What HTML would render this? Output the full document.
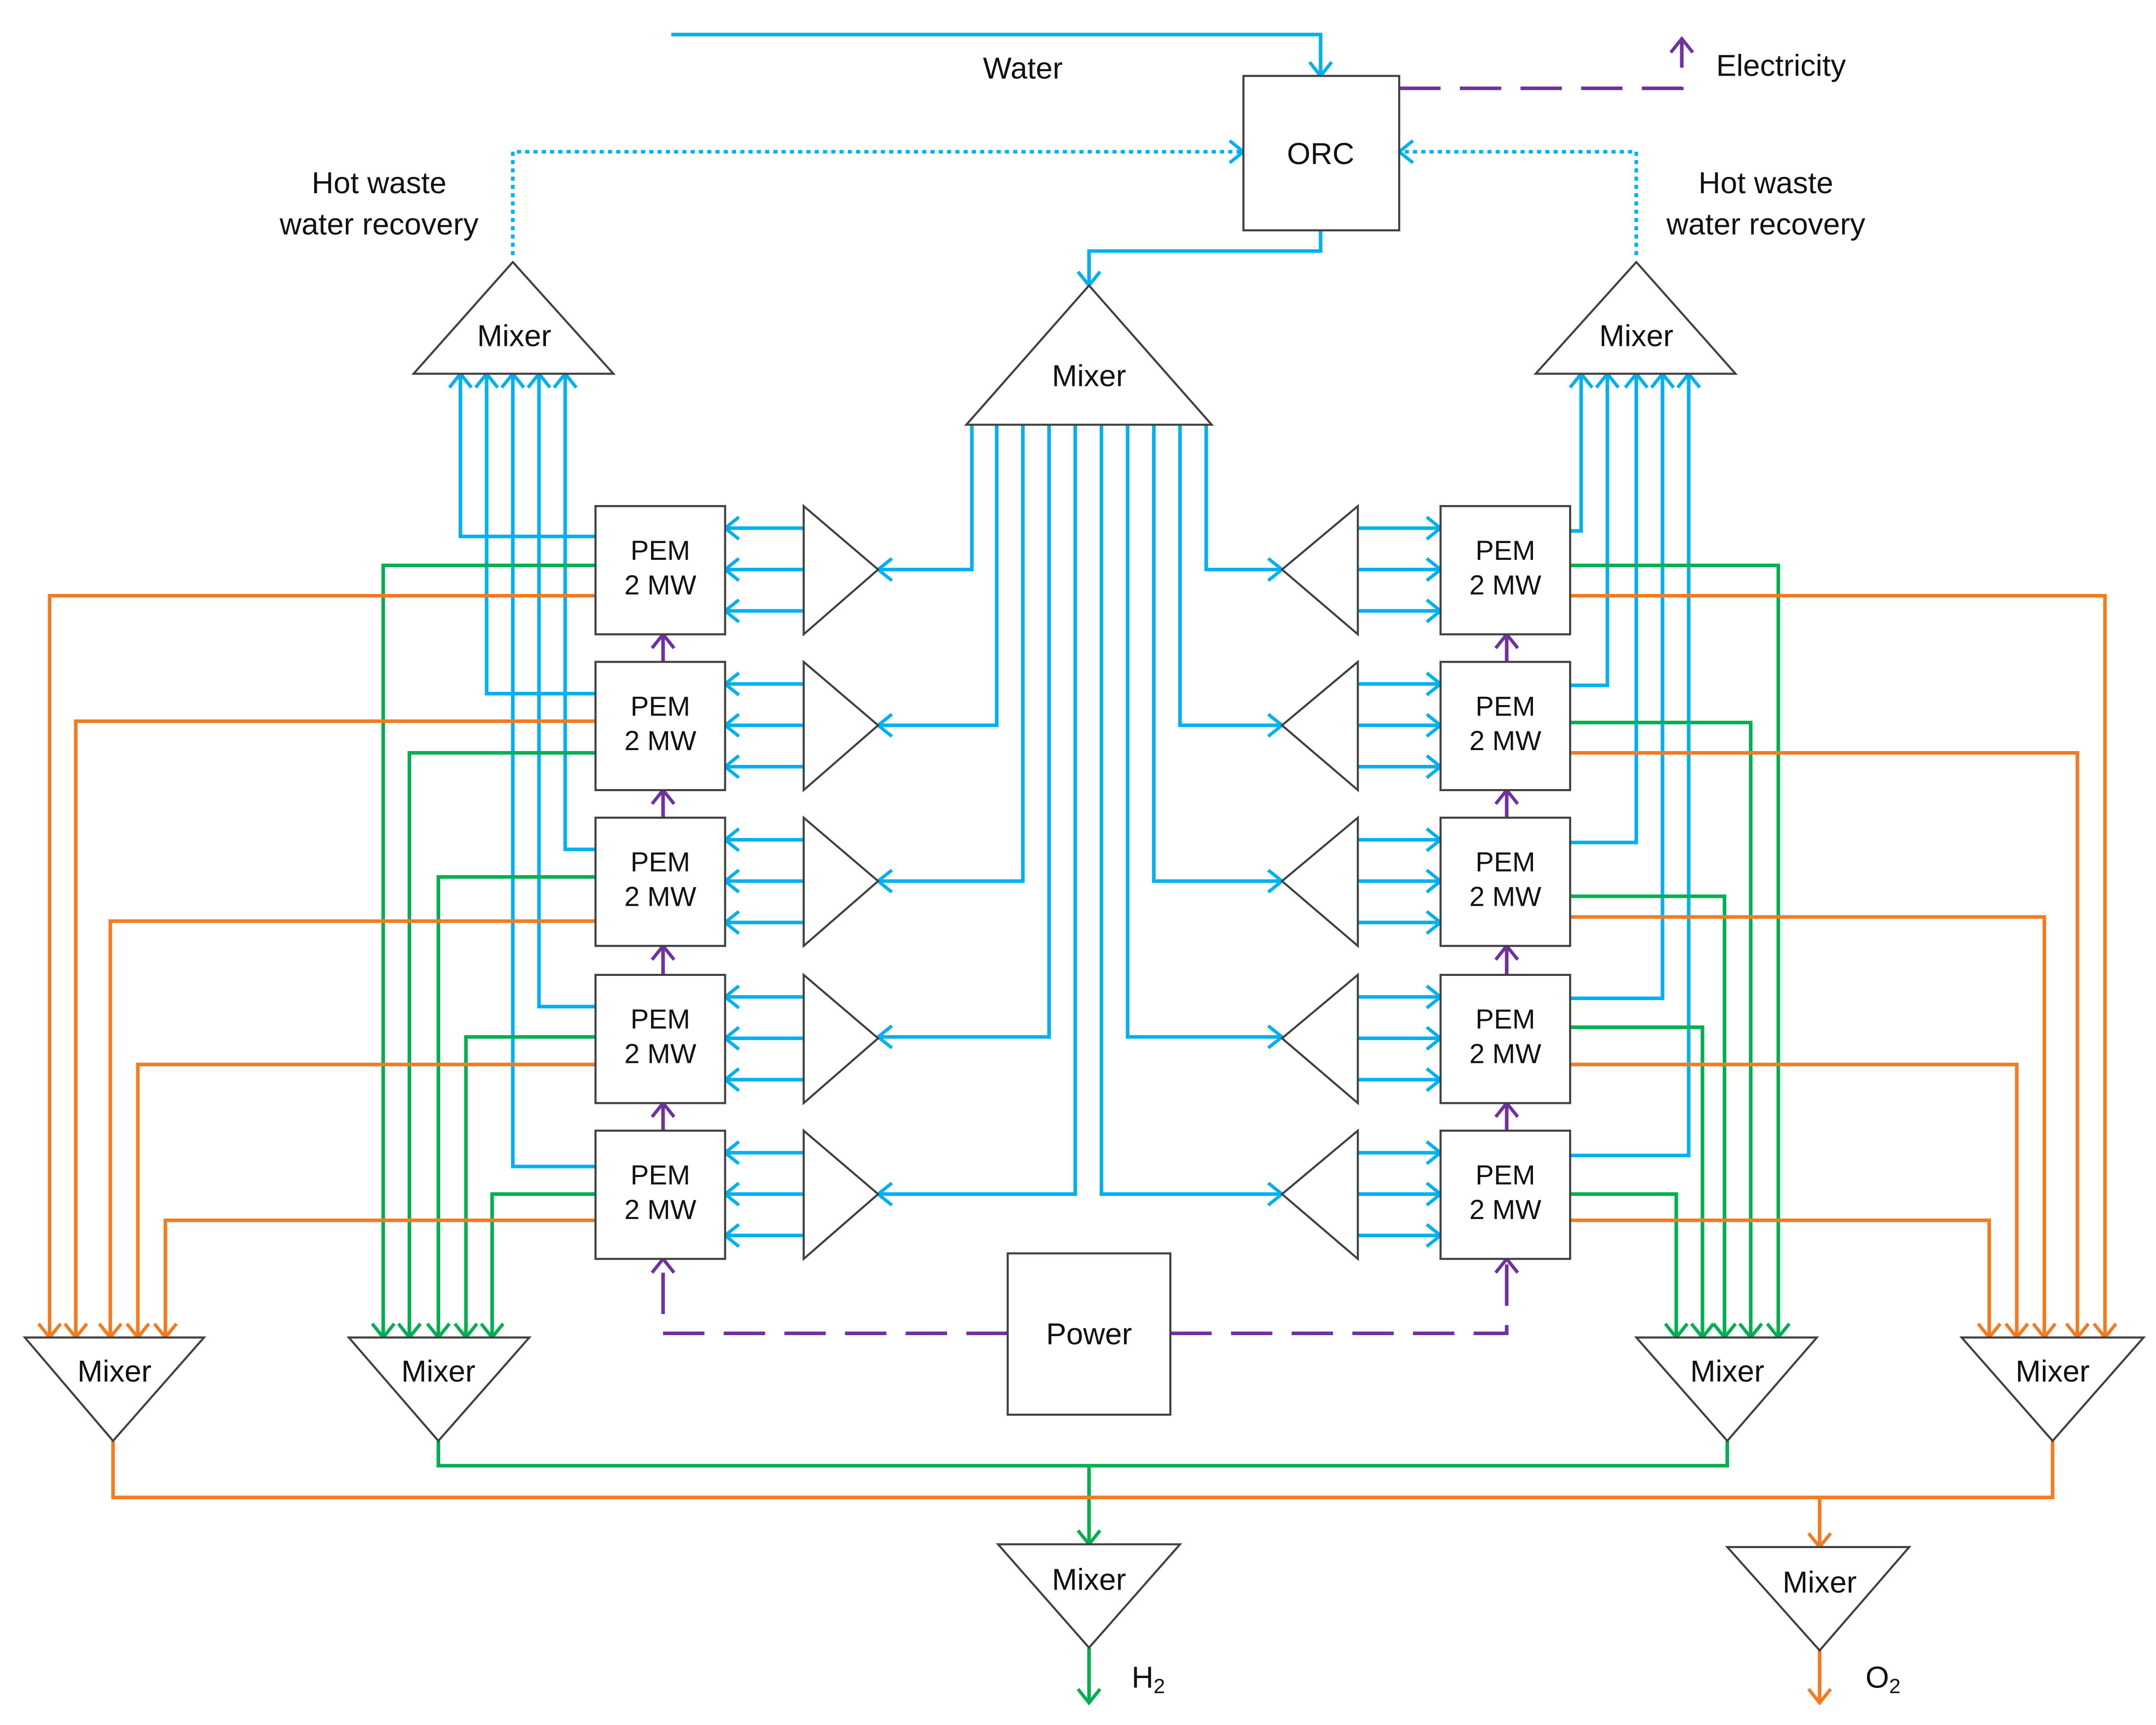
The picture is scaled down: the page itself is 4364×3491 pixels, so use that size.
<!DOCTYPE html>
<html><head><meta charset="utf-8"><style>
html,body{margin:0;padding:0;background:#fff}
svg{display:block}
text{font-family:"Liberation Sans",sans-serif;fill:#111}
</style></head><body>
<svg width="4364" height="3491" viewBox="0 0 1564 1251" xmlns="http://www.w3.org/2000/svg">
<defs>
<marker id="mb" markerUnits="userSpaceOnUse" markerWidth="24" markerHeight="24" viewBox="-12 -12 24 24" refX="0" refY="0" orient="auto"><path d="M-10,-8 L0,0 L-10,8" fill="none" stroke="#00b0f0" stroke-width="2.4"/></marker>
<marker id="mg" markerUnits="userSpaceOnUse" markerWidth="24" markerHeight="24" viewBox="-12 -12 24 24" refX="0" refY="0" orient="auto"><path d="M-10,-8 L0,0 L-10,8" fill="none" stroke="#00b050" stroke-width="2.4"/></marker>
<marker id="mo" markerUnits="userSpaceOnUse" markerWidth="24" markerHeight="24" viewBox="-12 -12 24 24" refX="0" refY="0" orient="auto"><path d="M-10,-8 L0,0 L-10,8" fill="none" stroke="#f47b20" stroke-width="2.4"/></marker>
<marker id="mp" markerUnits="userSpaceOnUse" markerWidth="24" markerHeight="24" viewBox="-12 -12 24 24" refX="0" refY="0" orient="auto"><path d="M-10,-8 L0,0 L-10,8" fill="none" stroke="#7030a0" stroke-width="2.4"/></marker>
</defs>

<g fill="none" stroke-width="2.6" stroke-linejoin="miter">
<g stroke="#00b0f0" marker-end="url(#mb)">
<polyline points="487,25 958,25 958,55"/>
<polyline points="958,167 958,182 790,182 790,207"/>
<polyline points="372,185 372,110 902,110" stroke-dasharray="3,3"/>
<polyline points="1187,185 1187,110 1015,110" stroke-dasharray="3,3"/>
<polyline points="705,308 705,413 637,413"/>
<polyline points="723,308 723,526 637,526"/>
<polyline points="742,308 742,639 637,639"/>
<polyline points="761,308 761,752 637,752"/>
<polyline points="780,308 780,866 637,866"/>
<polyline points="799,308 799,866 930,866"/>
<polyline points="818,308 818,752 930,752"/>
<polyline points="837,308 837,639 930,639"/>
<polyline points="856,308 856,526 930,526"/>
<polyline points="875,308 875,413 930,413"/>
<line x1="583" y1="383" x2="526" y2="383"/><line x1="583" y1="413" x2="526" y2="413"/><line x1="583" y1="443" x2="526" y2="443"/>
<line x1="583" y1="496" x2="526" y2="496"/><line x1="583" y1="526" x2="526" y2="526"/><line x1="583" y1="556" x2="526" y2="556"/>
<line x1="583" y1="609" x2="526" y2="609"/><line x1="583" y1="639" x2="526" y2="639"/><line x1="583" y1="669" x2="526" y2="669"/>
<line x1="583" y1="723" x2="526" y2="723"/><line x1="583" y1="753" x2="526" y2="753"/><line x1="583" y1="783" x2="526" y2="783"/>
<line x1="583" y1="836" x2="526" y2="836"/><line x1="583" y1="866" x2="526" y2="866"/><line x1="583" y1="896" x2="526" y2="896"/>
<line x1="985" y1="383" x2="1045" y2="383"/><line x1="985" y1="413" x2="1045" y2="413"/><line x1="985" y1="443" x2="1045" y2="443"/>
<line x1="985" y1="496" x2="1045" y2="496"/><line x1="985" y1="526" x2="1045" y2="526"/><line x1="985" y1="556" x2="1045" y2="556"/>
<line x1="985" y1="609" x2="1045" y2="609"/><line x1="985" y1="639" x2="1045" y2="639"/><line x1="985" y1="669" x2="1045" y2="669"/>
<line x1="985" y1="723" x2="1045" y2="723"/><line x1="985" y1="753" x2="1045" y2="753"/><line x1="985" y1="783" x2="1045" y2="783"/>
<line x1="985" y1="836" x2="1045" y2="836"/><line x1="985" y1="866" x2="1045" y2="866"/><line x1="985" y1="896" x2="1045" y2="896"/>
<polyline points="432,389 334,389 334,271"/>
<polyline points="432,503 353,503 353,271"/>
<polyline points="432,616 410,616 410,271"/>
<polyline points="432,730 391,730 391,271"/>
<polyline points="432,846 372,846 372,271"/>
<polyline points="1139,385 1147,385 1147,271"/>
<polyline points="1139,497 1166,497 1166,271"/>
<polyline points="1139,611 1187,611 1187,271"/>
<polyline points="1139,724 1206,724 1206,271"/>
<polyline points="1139,838 1225,838 1225,271"/>
</g>
<g stroke="#00b050" marker-end="url(#mg)">
<polyline points="432,410 278,410 278,970"/>
<polyline points="432,546 297,546 297,970"/>
<polyline points="432,636 318,636 318,970"/>
<polyline points="432,752 338,752 338,970"/>
<polyline points="432,866 357,866 357,970"/>
<polyline points="1139,410 1290,410 1290,970"/>
<polyline points="1139,524 1270,524 1270,970"/>
<polyline points="1139,650 1251,650 1251,970"/>
<polyline points="1139,745 1235,745 1235,970"/>
<polyline points="1139,866 1216,866 1216,970"/>
<polyline points="790,1063 790,1120"/>
<polyline points="790,1195 790,1235"/>
</g>
<polyline stroke="#00b050" points="318,1045 318,1063 1253,1063 1253,1045"/>
<g stroke="#f47b20" marker-end="url(#mo)">
<polyline points="432,432 36,432 36,970"/>
<polyline points="432,523 55,523 55,970"/>
<polyline points="432,668 80,668 80,970"/>
<polyline points="432,772 100,772 100,970"/>
<polyline points="432,885 120,885 120,970"/>
<polyline points="1139,432 1527,432 1527,970"/>
<polyline points="1139,546 1507,546 1507,970"/>
<polyline points="1139,665 1483,665 1483,970"/>
<polyline points="1139,772 1463,772 1463,970"/>
<polyline points="1139,885 1443,885 1443,970"/>
<polyline points="1320,1086 1320,1122"/>
<polyline points="1320,1197 1320,1235"/>
</g>
<polyline stroke="#f47b20" points="82,1045 82,1086 1489,1086 1489,1045"/>
<g stroke="#7030a0" marker-end="url(#mp)">
<polyline points="1015,64 1220,64 1220,28" stroke-dasharray="30,14"/>
<polyline points="731,967 481,967 481,913" stroke-dasharray="30,14"/>
<polyline points="849,967 1093,967 1093,913" stroke-dasharray="30,14"/>
<line x1="481" y1="480" x2="481" y2="460"/><line x1="481" y1="593" x2="481" y2="573"/><line x1="481" y1="707" x2="481" y2="686"/><line x1="481" y1="820" x2="481" y2="800"/>
<line x1="1093" y1="480" x2="1093" y2="460"/><line x1="1093" y1="593" x2="1093" y2="573"/><line x1="1093" y1="707" x2="1093" y2="686"/><line x1="1093" y1="820" x2="1093" y2="800"/>
</g>
</g>

<g fill="#fff" stroke="#404040" stroke-width="1.5">
<rect x="902" y="55" width="113" height="112"/>
<rect x="731" y="909" width="118" height="117"/>
<rect x="432" y="367" width="94" height="93"/><rect x="432" y="480" width="94" height="93"/><rect x="432" y="593" width="94" height="93"/><rect x="432" y="707" width="94" height="93"/><rect x="432" y="820" width="94" height="93"/>
<rect x="1045" y="367" width="94" height="93"/><rect x="1045" y="480" width="94" height="93"/><rect x="1045" y="593" width="94" height="93"/><rect x="1045" y="707" width="94" height="93"/><rect x="1045" y="820" width="94" height="93"/>
<polygon points="583,367 637,413 583,460"/><polygon points="583,480 637,526 583,573"/><polygon points="583,593 637,639 583,686"/><polygon points="583,707 637,753 583,800"/><polygon points="583,820 637,866 583,913"/>
<polygon points="985,367 930,413 985,460"/><polygon points="985,480 930,526 985,573"/><polygon points="985,593 930,639 985,686"/><polygon points="985,707 930,753 985,800"/><polygon points="985,820 930,866 985,913"/>
<polygon points="790,207 879,308 701,308"/>
<polygon points="372,190 445,271 300,271"/>
<polygon points="1187,190 1259,271 1114,271"/>
<polygon points="18,970 148,970 82,1045"/>
<polygon points="253,970 384,970 318,1045"/>
<polygon points="1187,970 1318,970 1253,1045"/>
<polygon points="1423,970 1555,970 1489,1045"/>
<polygon points="724,1120 856,1120 790,1195"/>
<polygon points="1253,1122 1385,1122 1320,1197"/>
</g>

<g font-size="22" text-anchor="middle">
<text x="742" y="57">Water</text>
<text x="1292" y="55">Electricity</text>
<text x="958" y="119">ORC</text>
<text x="275" y="140">Hot waste</text><text x="275" y="170">water recovery</text>
<text x="1281" y="140">Hot waste</text><text x="1281" y="170">water recovery</text>
<text x="373" y="251">Mixer</text>
<text x="1187" y="251">Mixer</text>
<text x="790" y="280">Mixer</text>
<text x="790" y="975">Power</text>
<text x="83" y="1002">Mixer</text>
<text x="318" y="1002">Mixer</text>
<text x="1253" y="1002">Mixer</text>
<text x="1489" y="1002">Mixer</text>
<text x="790" y="1153">Mixer</text>
<text x="1320" y="1155">Mixer</text>
<text x="833" y="1224">H<tspan font-size="15" dy="4">2</tspan></text>
<text x="1366" y="1224">O<tspan font-size="15" dy="4">2</tspan></text>
</g>
<g font-size="20" text-anchor="middle">
<text x="479" y="406">PEM</text><text x="479" y="431">2 MW</text>
<text x="479" y="519">PEM</text><text x="479" y="544">2 MW</text>
<text x="479" y="632">PEM</text><text x="479" y="657">2 MW</text>
<text x="479" y="746">PEM</text><text x="479" y="771">2 MW</text>
<text x="479" y="859">PEM</text><text x="479" y="884">2 MW</text>
<text x="1092" y="406">PEM</text><text x="1092" y="431">2 MW</text>
<text x="1092" y="519">PEM</text><text x="1092" y="544">2 MW</text>
<text x="1092" y="632">PEM</text><text x="1092" y="657">2 MW</text>
<text x="1092" y="746">PEM</text><text x="1092" y="771">2 MW</text>
<text x="1092" y="859">PEM</text><text x="1092" y="884">2 MW</text>
</g>
</svg>
</body></html>
